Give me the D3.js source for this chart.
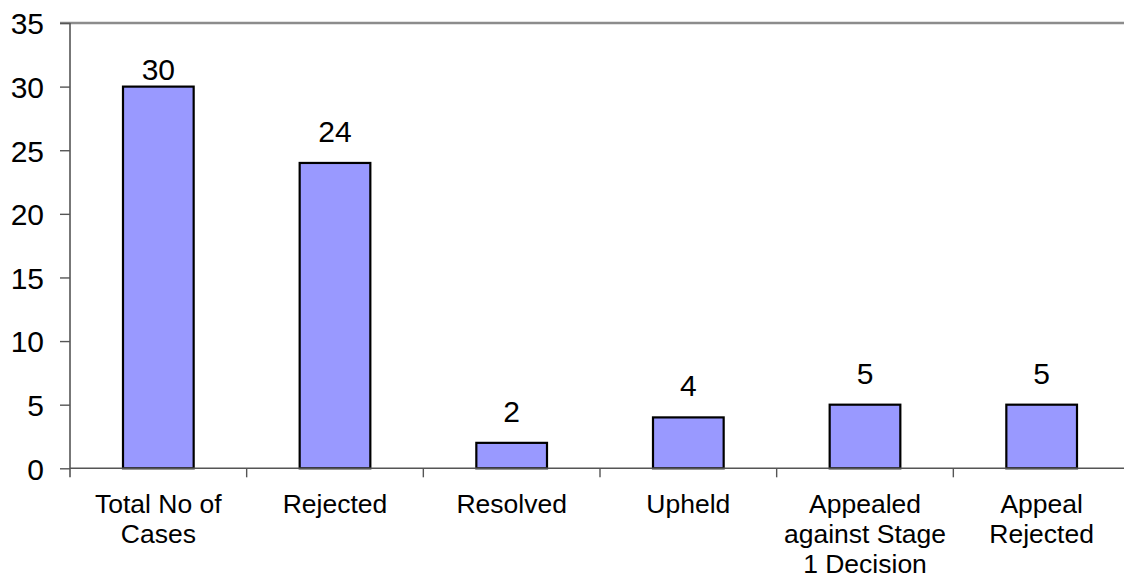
<!DOCTYPE html>
<html>
<head>
<meta charset="utf-8">
<script src="https://cdn.jsdelivr.net/npm/d3@7"></script>
<style>
  html, body { margin: 0; padding: 0; background: #fff; }
  svg { display: block; }
  text { font-family: Arial, "Liberation Sans", sans-serif; fill: #000; }
</style>
</head>
<body>
<svg id="chart" width="1124" height="582"></svg>
<script>
const categories = [
  ["Total No of", "Cases"],
  ["Rejected"],
  ["Resolved"],
  ["Upheld"],
  ["Appealed", "against Stage", "1 Decision"],
  ["Appeal", "Rejected"]
];
const values = [30, 24, 2, 4, 5, 5];
const yTicks = [0, 5, 10, 15, 20, 25, 30, 35];

const svg = d3.select("#chart");
const plotLeft = 70, plotRight = 1130, plotTop = 23, plotBottom = 468.3;

const x = d3.scaleBand()
  .domain(d3.range(values.length))
  .range([plotLeft, plotRight])
  .paddingInner(0.6)
  .paddingOuter(0.3);

const y = d3.scaleLinear().domain([0, 35]).range([plotBottom, plotTop]);

// top border line
svg.append("line")
  .attr("x1", plotLeft - 10).attr("x2", 1124)
  .attr("y1", y(35)).attr("y2", y(35))
  .attr("stroke", "#8c8c8c").attr("stroke-width", 2.5);

// y axis
const yAxis = svg.append("g")
  .attr("transform", `translate(${plotLeft},0)`)
  .call(d3.axisLeft(y).tickValues(yTicks).tickSize(10).tickPadding(16));
yAxis.select(".domain").attr("stroke", "#555").attr("stroke-width", 1.6)
  .attr("d", `M0,${y(35)}V${plotBottom + 9}`);
yAxis.selectAll(".tick line").attr("stroke", "#555").attr("stroke-width", 1.4);
yAxis.selectAll(".tick text")
  .attr("font-size", 30)
  .attr("font-family", "Arial, 'Liberation Sans', sans-serif")
  .attr("fill", "#000")
  .attr("dy", "0.36em");

// bars
svg.append("g").selectAll("rect")
  .data(values)
  .join("rect")
  .attr("x", (d, i) => x(i))
  .attr("width", x.bandwidth())
  .attr("y", d => y(d))
  .attr("height", d => y(0) - y(d))
  .attr("fill", "#9999ff")
  .attr("stroke", "#000")
  .attr("stroke-width", 2.2);

// x baseline & category ticks
const step = x.step();
const xg = svg.append("g");
xg.append("line")
  .attr("x1", plotLeft).attr("x2", 1124)
  .attr("y1", plotBottom).attr("y2", plotBottom)
  .attr("stroke", "#555").attr("stroke-width", 1.6);
xg.selectAll("line.ct")
  .data(d3.range(1, values.length))
  .join("line")
  .attr("class", "ct")
  .attr("x1", i => plotLeft + i * step).attr("x2", i => plotLeft + i * step)
  .attr("y1", plotBottom).attr("y2", plotBottom + 9)
  .attr("stroke", "#555").attr("stroke-width", 1.4);

// data labels
const maxV = d3.max(values);
svg.append("g").selectAll("text")
  .data(values)
  .join("text")
  .attr("x", (d, i) => x(i) + x.bandwidth() / 2)
  .attr("y", d => y(d) - (d === maxV ? 7 : 21))
  .attr("text-anchor", "middle")
  .attr("font-size", 30)
  .text(d => d);

// category labels
const cg = svg.append("g");
categories.forEach((lines, i) => {
  const t = cg.append("text")
    .attr("x", x(i) + x.bandwidth() / 2)
    .attr("y", 513)
    .attr("text-anchor", "middle")
    .attr("font-size", 26.5);
  lines.forEach((ln, j) => {
    t.append("tspan")
      .attr("x", x(i) + x.bandwidth() / 2)
      .attr("y", 513 + j * 30)
      .text(ln);
  });
});
</script>
</body>
</html>
